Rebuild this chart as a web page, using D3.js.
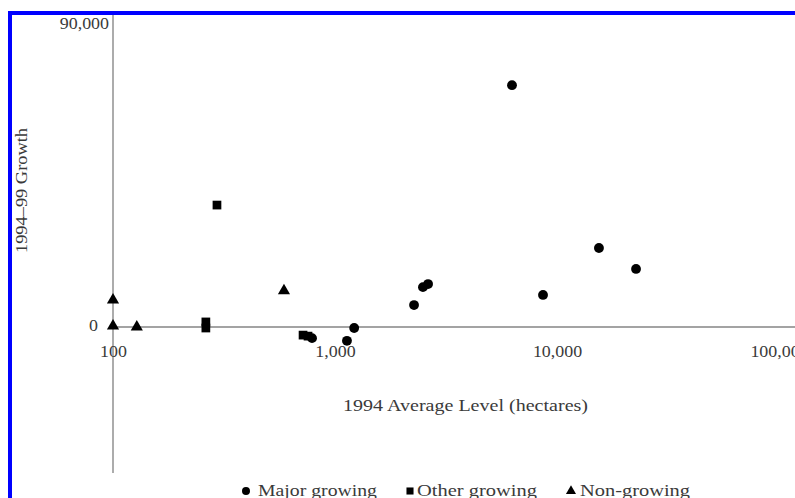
<!DOCTYPE html>
<html>
<head>
<meta charset="utf-8">
<script src="https://cdn.jsdelivr.net/npm/d3@7"></script>
<style>
  body { margin: 0; background: #fff; }
  svg { display: block; font-family: "Liberation Serif", "Times New Roman", serif; }
</style>
</head>
<body>
<svg id="chart" width="795" height="498"></svg>
<script>
// 1994 average level (hectares) vs 1994-99 growth
var majorX = [6270, 15450, 22700, 8650, 2490, 2625, 2270, 1220, 1132, 788];
var majorY = [71600, 23400, 17200, 9500, 11800, 12700, 6500, -300, -4100, -3300];
var otherX = [294, 262, 262, 718, 756];
var otherY = [36100, 1500, -300, -2400, -2700];
var nonX = [100, 100, 128, 589];
var nonY = [8000, 300, 0, 10700];

var xTicks = [100, 1000, 10000, 100000];
var yTicks = [0, 90000];
var legendNames = ["Major growing", "Other growing", "Non-growing"];

var svg = d3.select("#chart"),
    width = +svg.attr("width"),
    height = +svg.attr("height");

var x = d3.scaleLog()
    .domain([100, 100000])
    .range([113, 779]);

var y = d3.scaleLinear()
    .domain([0, 90000])
    .range([327, 23]);

var fmt = d3.format(",");
var axisColor = "#a3a3a3";
var textColor = "#3a3a3a";

// axis lines (they run past the tick range)
svg.append("line")
    .attr("x1", x(100)).attr("x2", width + 10)
    .attr("y1", y(0)).attr("y2", y(0))
    .attr("stroke", axisColor).attr("stroke-width", 1.8);
svg.append("line")
    .attr("x1", x(100)).attr("x2", x(100))
    .attr("y1", y(90000) - 8).attr("y2", y(-43200))
    .attr("stroke", axisColor).attr("stroke-width", 1.8);

// widen tick text a little, the scan is stretched
function stretch(sel, k) {
  sel.each(function(){
    var w = this.getComputedTextLength();
    d3.select(this).attr("textLength", w * k).attr("lengthAdjust", "spacingAndGlyphs");
  });
}

// x tick labels
var xAxis = svg.append("g")
    .attr("transform", "translate(0," + y(0) + ")")
    .call(d3.axisBottom(x).tickValues(xTicks).tickFormat(fmt).tickSize(0).tickPadding(19));
xAxis.select(".domain").remove();
xAxis.selectAll("text")
    .attr("fill", textColor)
    .style("font-family", "Liberation Serif")
    .style("font-size", "16px")
    .call(stretch, 1.12);

// y tick labels
var yAxis = svg.append("g")
    .attr("transform", "translate(" + x(100) + ",0)")
    .call(d3.axisLeft(y).tickValues(yTicks).tickFormat(fmt).tickSize(0).tickPadding(4));
yAxis.select(".domain").remove();
yAxis.selectAll("text")
    .attr("fill", textColor)
    .style("font-family", "Liberation Serif")
    .style("font-size", "16px")
    .attr("dx", function(d){ return d === 0 ? -11 : 0 })
    .attr("dy", function(d){ return d === 0 ? "0.2em" : "0.32em" })
    .call(stretch, 1.12);

// axis titles
svg.append("text")
    .attr("x", 343).attr("y", 411)
    .attr("textLength", 245).attr("lengthAdjust", "spacingAndGlyphs")
    .attr("fill", textColor)
    .style("font-size", "17px")
    .text("1994 Average Level (hectares)");

svg.append("text")
    .attr("transform", "translate(27,253) rotate(-90)")
    .attr("textLength", 125).attr("lengthAdjust", "spacingAndGlyphs")
    .attr("fill", textColor)
    .style("font-size", "17px")
    .text("1994\u201399 Growth");

// points
var major = majorX.map(function(d, i){ return {x: d, y: majorY[i]} });
var other = otherX.map(function(d, i){ return {x: d, y: otherY[i]} });
var non = nonX.map(function(d, i){ return {x: d, y: nonY[i]} });

var symCircle = d3.symbol().type(d3.symbolCircle).size(76);
var symSquare = d3.symbol().type(d3.symbolSquare).size(76);
var symTri = d3.symbol().type(d3.symbolTriangle).size(64);

function plot(data, sym) {
  svg.append("g")
    .selectAll("path")
    .data(data)
    .enter()
    .append("path")
      .attr("d", sym)
      .attr("transform", function(d){ return "translate(" + x(d.x) + "," + y(d.y) + ")" })
      .attr("fill", "#000");
}
plot(other, symSquare);
plot(non, symTri);
plot(major, symCircle);

// legend
var legendMarkX = [246, 410, 571];
var legendTextX = [258, 417, 580];
var legendTextW = [119, 120, 110];
var legendSyms = [
  d3.symbol().type(d3.symbolCircle).size(50),
  d3.symbol().type(d3.symbolSquare).size(50),
  d3.symbol().type(d3.symbolTriangle).size(44)
];
var legend = svg.append("g");
legendNames.forEach(function(name, i){
  legend.append("path")
    .attr("d", legendSyms[i])
    .attr("transform", "translate(" + legendMarkX[i] + ",491)")
    .attr("fill", "#000");
  legend.append("text")
    .attr("x", legendTextX[i]).attr("y", 496)
    .attr("textLength", legendTextW[i]).attr("lengthAdjust", "spacingAndGlyphs")
    .attr("fill", textColor)
    .style("font-size", "17px")
    .text(name);
});

// blue frame
svg.append("rect")
    .attr("x", 10).attr("y", 13)
    .attr("width", width + 20).attr("height", height + 20)
    .attr("fill", "none")
    .attr("stroke", "#0000ff")
    .attr("stroke-width", 4);
</script>
</body>
</html>
